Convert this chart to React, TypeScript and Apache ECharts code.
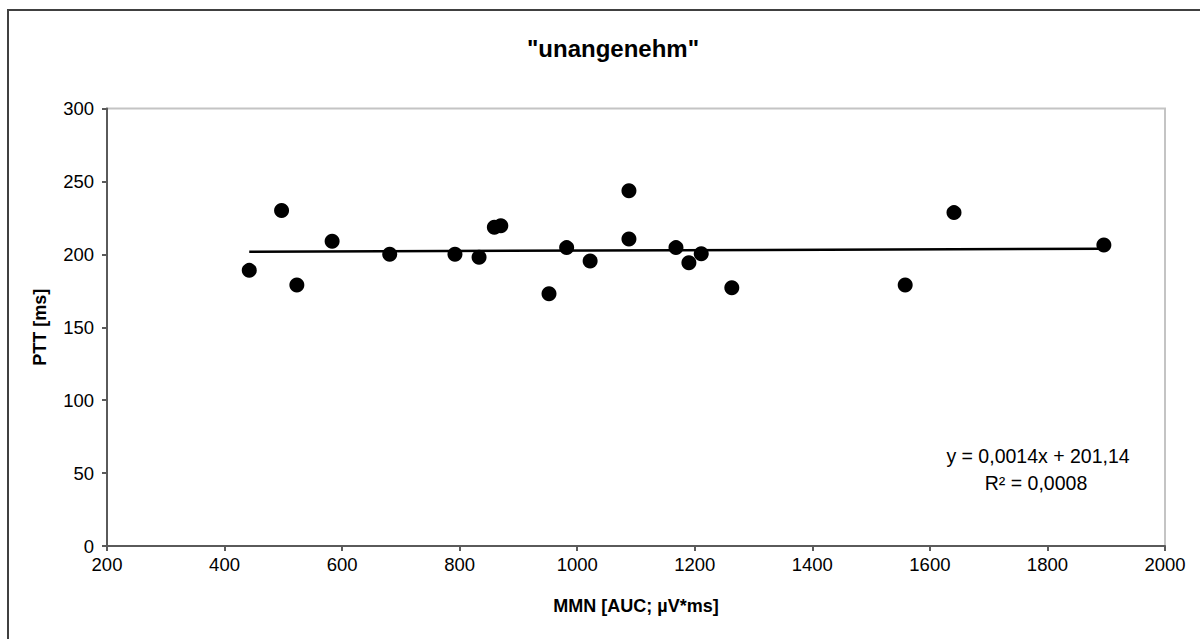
import React, { useEffect, useRef } from "react";
import * as echarts from "echarts";

const titleText = '"unangenehm"';
const xAxisName = "MMN [AUC; µV*ms]";
const yAxisName = "PTT [ms]";

const mmnValues = [442, 497, 523, 583, 681, 792, 833, 859, 870, 952, 982, 1022, 1088, 1088, 1168, 1190, 1211, 1263, 1558, 1641, 1896];
const pttValues = [189, 230, 179, 209, 200, 200, 198, 218.5, 219.6, 173, 204.6, 195.4, 243.6, 210.5, 204.6, 194.3, 200.4, 177.1, 179, 228.6, 206.4];

const slope = 0.0014;
const intercept = 201.14;
const equationLabel = "y = 0,0014x + 201,14";
const r2Label = "R² = 0,0008";

const xMin = 200, xMax = 2000, xStep = 200;
const yMin = 0, yMax = 300, yStep = 50;

export default function App() {
  const ref = useRef<HTMLDivElement>(null);
  useEffect(() => {
    const chart = echarts.init(ref.current!, null, { renderer: "svg" });
    const points = mmnValues.map((x, i) => [x, pttValues[i]]);
    const lo = Math.min(...mmnValues);
    const hi = Math.max(...mmnValues);
    const trend = [[lo, slope * lo + intercept], [hi, slope * hi + intercept]];
    const font = "Liberation Sans, Arial, sans-serif";
    chart.setOption({
      animation: false,
      backgroundColor: "#ffffff",
      title: {
        text: titleText,
        left: 608,
        top: 31,
        textAlign: "center",
        textStyle: { fontFamily: font, fontSize: 24, fontWeight: "bold", color: "#000" },
      },
      grid: {
        left: 107,
        right: 35,
        top: 108.5,
        bottom: 93,
        containLabel: false,
        outerBoundsMode: "none",
        show: true,
        borderColor: "#c4c4c4",
        borderWidth: 2,
        backgroundColor: "transparent",
      },
      xAxis: {
        type: "value",
        min: xMin,
        max: xMax,
        interval: xStep,
        name: xAxisName,
        nameLocation: "middle",
        nameGap: 51,
        nameTextStyle: { fontFamily: font, fontSize: 18, fontWeight: "bold", color: "#000" },
        axisLine: { show: true, onZero: false, lineStyle: { color: "#5a5a5a", width: 2 } },
        axisTick: { show: true, length: 5, lineStyle: { color: "#5a5a5a", width: 2 } },
        axisLabel: { fontFamily: font, fontSize: 18.5, color: "#000", margin: 9, formatter: (v: number) => String(v) },
        splitLine: { show: false },
      },
      yAxis: {
        type: "value",
        min: yMin,
        max: yMax,
        interval: yStep,
        name: yAxisName,
        nameLocation: "middle",
        nameGap: 58,
        nameTextStyle: { fontFamily: font, fontSize: 18, fontWeight: "bold", color: "#000" },
        axisLine: { show: true, onZero: false, lineStyle: { color: "#5a5a5a", width: 2 } },
        axisTick: { show: true, length: 5, lineStyle: { color: "#5a5a5a", width: 2 } },
        axisLabel: { fontFamily: font, fontSize: 18.5, color: "#000", margin: 13, formatter: (v: number) => String(v) },
        splitLine: { show: false },
      },
      series: [
        {
          type: "line",
          data: trend,
          symbol: "none",
          lineStyle: { color: "#000", width: 2.5 },
          z: 2,
        },
        {
          type: "scatter",
          data: points,
          symbol: "circle",
          symbolSize: 15,
          itemStyle: { color: "#000", opacity: 1 },
          z: 3,
        },
      ],
      graphic: [
        {
          type: "rect",
          shape: { x: 8, y: 10, width: 1250, height: 700 },
          style: { fill: "none", stroke: "#404040", lineWidth: 2 },
          silent: true,
        },
        {
          type: "text",
          x: 1038,
          y: 456,
          style: { text: equationLabel, fontFamily: font, fontSize: 19.5, fill: "#000", align: "center", verticalAlign: "middle" },
        },
        {
          type: "text",
          x: 1036,
          y: 483,
          style: { text: r2Label, fontFamily: font, fontSize: 19.5, fill: "#000", align: "center", verticalAlign: "middle" },
        },
      ],
    });
    return () => chart.dispose();
  }, []);
  return <div ref={ref} style={{ position: "fixed", left: 0, top: 0, width: 1200, height: 639 }} />;
}
